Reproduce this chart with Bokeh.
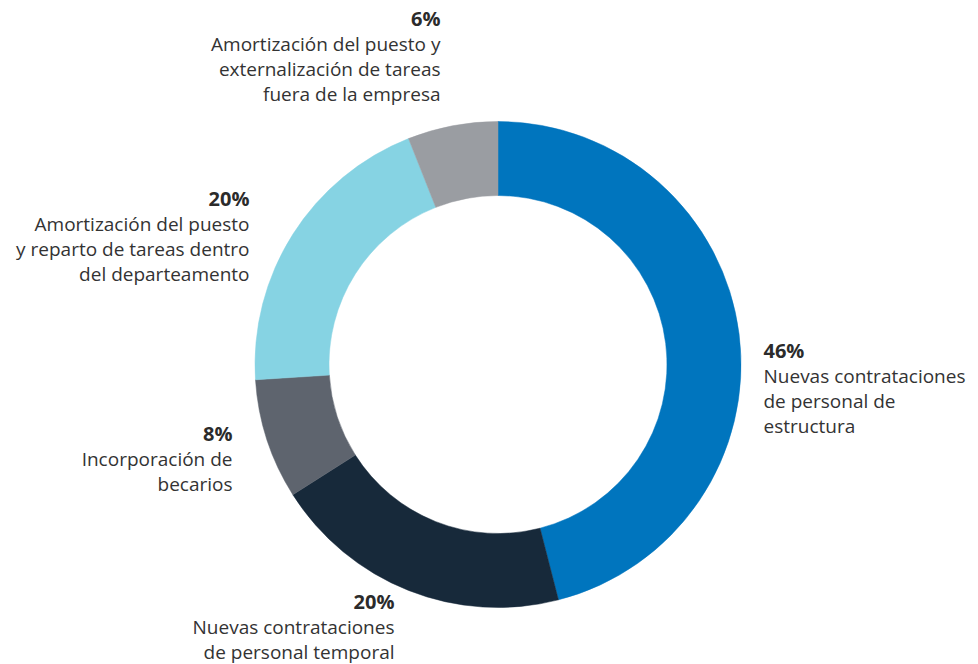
import math
from bokeh.plotting import figure
from bokeh.models import ColumnDataSource, Range1d
from bokeh.core.properties import value
from bokeh.embed import file_html
from bokeh.resources import INLINE

# ---- data ----
categories = [
    "Nuevas contrataciones de personal de estructura",
    "Nuevas contrataciones de personal temporal",
    "Incorporación de becarios",
    "Amortización del puesto y reparto de tareas dentro del departeamento",
    "Amortización del puesto y externalización de tareas fuera de la empresa",
]
values = [46, 20, 8, 20, 6]
colors = ["#0075BE", "#17293A", "#5E646E", "#86D3E3", "#9A9DA2"]
pct_labels = ["46%", "20%", "8%", "20%", "6%"]
label_lines = [
    ["Nuevas contrataciones", "de personal de", "estructura"],
    ["Nuevas contrataciones", "de personal temporal"],
    ["Incorporación de", "becarios"],
    ["Amortización del puesto", "y reparto de tareas dentro", "del departeamento"],
    ["Amortización del puesto y", "externalización de tareas", "fuera de la empresa"],
]

# ---- layout ----
W, H = 970, 664
def px(x):
    return x
def py(y):
    return H - y

cx, cy = px(497.5), py(364)
r_out, r_in = 243, 169

# label anchors (x, y of first line) and alignment
label_layout = [
    (763, 350, "left"),
    (394, 601, "right"),
    (232, 433, "right"),
    (249, 198, "right"),
    (440, 18, "right"),
]
line_gap = 25

total = sum(values)
starts, ends = [], []
cum = 0.0
for v in values:
    starts.append(math.pi / 2 - 2 * math.pi * cum / total)
    cum += v
    ends.append(math.pi / 2 - 2 * math.pi * cum / total)

p = figure(width=W, height=H, output_backend="svg", toolbar_location=None,
           x_range=Range1d(0, W), y_range=Range1d(0, H), min_border=0)
p.axis.visible = False
p.grid.visible = False
p.outline_line_color = None
p.background_fill_color = "white"

src = ColumnDataSource(dict(start=starts, end=ends, color=colors, cat=categories))
p.annular_wedge(x=cx, y=cy, inner_radius=r_in, outer_radius=r_out,
                start_angle="start", end_angle="end", direction="clock",
                fill_color="color", line_color="color", line_width=0.5, source=src)

FONT = "Open Sans"
for i, (lx, ly, align) in enumerate(label_layout):
    p.text(x=[px(lx)], y=[py(ly)], text=[pct_labels[i]], text_align=align,
           text_baseline="middle", text_font=value(FONT), text_font_size="20px",
           text_font_style="bold", text_color="#2b2b2b")
    xs, ys, ts = [], [], []
    for j, t in enumerate(label_lines[i]):
        xs.append(px(lx))
        ys.append(py(ly + line_gap * (j + 1)))
        ts.append(t)
    p.text(x=xs, y=ys, text=ts, text_align=align, text_baseline="middle",
           text_font=value(FONT), text_font_size="19px", text_color="#333333")

open("out.html", "w").write(file_html(p, INLINE))
